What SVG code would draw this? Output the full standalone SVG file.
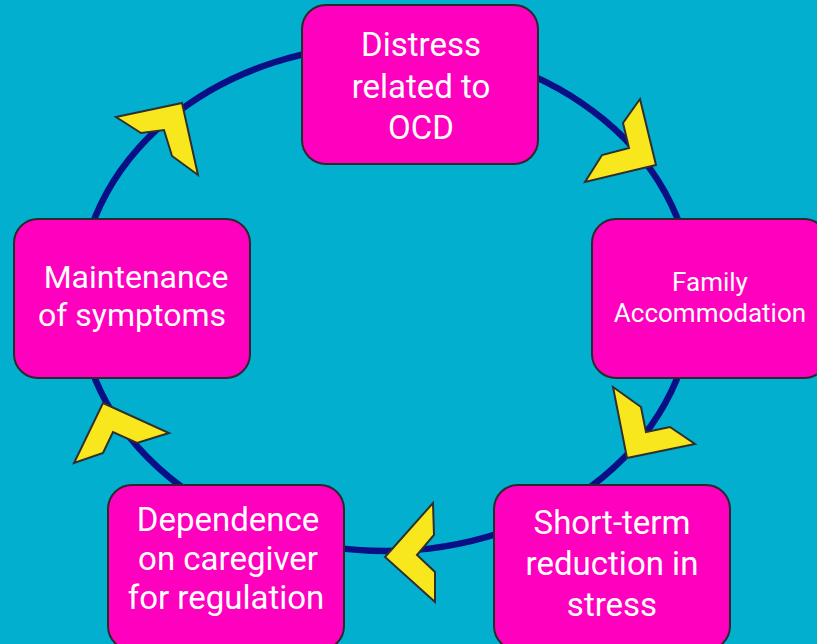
<svg xmlns="http://www.w3.org/2000/svg" width="817" height="644" viewBox="0 0 817 644">
<style>
.box{fill:#ff00bf;stroke:#2a2a2a;stroke-width:2}
.t{font-family:Roboto,"Liberation Sans",sans-serif;fill:#ffffff;text-anchor:middle}
.big{font-size:33px}
.mid{font-size:32px}
.small{font-size:26px}
.chev{fill:#f8e71c;stroke:#2f2f2f;stroke-width:2;stroke-linejoin:miter}
</style>
<rect x="0" y="0" width="817" height="644" fill="#02afcf"/>
<g id="connectors">
<ellipse cx="386" cy="298" rx="307" ry="253" fill="none" stroke="#0b0f86" stroke-width="6.5"/>
<polygon class="chev" points="640,99 656,165 585,182 602,155 629,148 623,123"/>
<polygon class="chev" points="613,387 641,407 646,432 670,427 695,444 627,458"/>
<polygon class="chev" points="433,503 434,535 417,555 435,572 435,602 385,557"/>
<polygon class="chev" points="103,403 169,433 137,443 113,432 103,453 74,463"/>
<polygon class="chev" points="116,117 182,103 198,175 172,156 164,130 141,133"/>
</g>
<g id="distress">
<rect class="box" x="302" y="5" width="236" height="159" rx="24"/>
<text class="t big" x="421" y="56">Distress</text>
<text class="t big" x="421" y="98">related to</text>
<text class="t big" x="421" y="139">OCD</text>
</g>
<g id="family">
<rect class="box" x="592" y="219" width="236" height="159" rx="24"/>
<text class="t small" x="710" y="291">Family</text>
<text class="t small" x="710" y="322">Accommodation</text>
</g>
<g id="shortterm">
<rect class="box" x="494" y="485" width="236" height="165" rx="24"/>
<text class="t big" x="612" y="534">Short-term</text>
<text class="t big" x="612" y="575">reduction in</text>
<text class="t big" x="612" y="616">stress</text>
</g>
<g id="dependence">
<rect class="box" x="108" y="485" width="236" height="165" rx="24"/>
<text class="t big" x="228" y="531">Dependence</text>
<text class="t big" x="228" y="570">on caregiver</text>
<text class="t big" x="226" y="609">for regulation</text>
</g>
<g id="maintenance">
<rect class="box" x="14" y="219" width="236" height="159" rx="24"/>
<text class="t mid" x="136" y="288">Maintenance</text>
<text class="t mid" x="132" y="326">of symptoms</text>
</g>
</svg>
